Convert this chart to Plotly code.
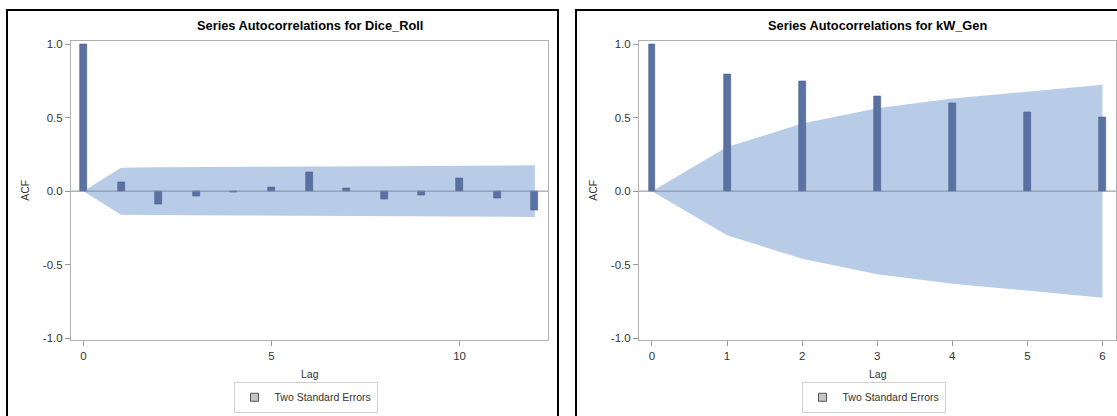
import plotly.graph_objects as go

# ---------------- data ----------------
dice_lags = list(range(0, 13))
dice_acf = [1.0, 0.062, -0.09, -0.035, -0.005, 0.028, 0.125, 0.018, -0.055, -0.03, 0.085, -0.05, -0.13]
dice_se2 = [0.0, 0.160, 0.162, 0.164, 0.165, 0.166, 0.167, 0.169, 0.170, 0.171, 0.172, 0.174, 0.176]

kw_lags = list(range(0, 7))
kw_acf = [1.0, 0.795, 0.745, 0.645, 0.60, 0.535, 0.50]
kw_se2 = [0.0, 0.30, 0.46, 0.565, 0.63, 0.68, 0.725]

y_tickvals = [-1.0, -0.5, 0.0, 0.5, 1.0]
y_ticktext = ["-1.0", "-0.5", "0.0", "0.5", "1.0"]
dice_xticks = [0, 5, 10]
kw_xticks = [0, 1, 2, 3, 4, 5, 6]

titles = ["Series Autocorrelations for Dice_Roll", "Series Autocorrelations for kW_Gen"]
legend_label = "Two Standard Errors"

# ---------------- styling ----------------
W, H = 1117, 416
BAR = "#5a72a3"
BAR_EDGE = "#4b608c"
BAND = "#b8cce8"
FONT = "Liberation Sans, Arial, sans-serif"
YRANGE = [-1.015, 1.02]


def px_x(p):
    return p / W


def px_y(p):
    return 1 - p / H


fig = go.Figure()

panels = [
    dict(lags=dice_lags, acf=dice_acf, se=dice_se2, xa="x", ya="y", oxa="x3", oya="y3",
         bw=0.186, xdom=[px_x(71), px_x(548)], xrange=[-0.33, 12.35], xticks=dice_xticks,
         legend="legend", cx=309.5, acfx=25),
    dict(lags=kw_lags, acf=kw_acf, se=kw_se2, xa="x2", ya="y2", oxa="x4", oya="y4",
         bw=0.093, xdom=[px_x(639), px_x(1116)], xrange=[-0.173, 6.18], xticks=kw_xticks,
         legend="legend2", cx=877.5, acfx=593),
]

for i, p in enumerate(panels):
    bx = p["lags"] + p["lags"][::-1]
    by = p["se"] + [-v for v in p["se"][::-1]]
    fig.add_trace(go.Scatter(
        x=bx, y=by, fill="toself", fillcolor=BAND, mode="lines",
        line=dict(width=0, color=BAND), xaxis=p["xa"], yaxis=p["ya"],
        showlegend=False, hoverinfo="skip"))
    # legend entry (gray swatch as in the reference)
    fig.add_trace(go.Scatter(
        x=[None], y=[None], mode="markers", name=legend_label,
        marker=dict(symbol="square", size=8, color="#c4c4c4",
                    line=dict(color="#555555", width=1)),
        xaxis=p["xa"], yaxis=p["ya"], legend=p["legend"], showlegend=True))
    # bars on an overlaying axis pair so they are drawn above the band
    fig.add_trace(go.Bar(
        x=p["lags"], y=p["acf"], width=p["bw"], xaxis=p["oxa"], yaxis=p["oya"],
        marker=dict(color=BAR, line=dict(color=BAR_EDGE, width=0.6)),
        showlegend=False))

ydom = [px_y(343), px_y(39)]
tickfont = dict(family=FONT, size=11.5, color="#333333")
axis_common = dict(showline=True, linecolor="#b0b0b0", linewidth=1, mirror=True,
                   ticks="outside", ticklen=5, tickcolor="#999999", showgrid=False,
                   zeroline=False, tickfont=tickfont)
hidden = dict(visible=False, showgrid=False, zeroline=False)

layout = dict(
    width=W, height=H, margin=dict(l=0, r=0, t=0, b=0),
    paper_bgcolor="white", plot_bgcolor="white", bargap=0,
    font=dict(family=FONT, size=11, color="#333333"),
    xaxis=dict(domain=panels[0]["xdom"], range=panels[0]["xrange"], anchor="y",
               tickvals=panels[0]["xticks"], **axis_common),
    yaxis=dict(domain=ydom, range=YRANGE, anchor="x",
               tickvals=y_tickvals, ticktext=y_ticktext, **axis_common),
    xaxis2=dict(domain=panels[1]["xdom"], range=panels[1]["xrange"], anchor="y2",
                tickvals=panels[1]["xticks"], **axis_common),
    yaxis2=dict(domain=ydom, range=YRANGE, anchor="x2",
                tickvals=y_tickvals, ticktext=y_ticktext, **axis_common),
    xaxis3=dict(overlaying="x", range=panels[0]["xrange"], anchor="y3", **hidden),
    yaxis3=dict(overlaying="y", range=YRANGE, anchor="x3", **hidden),
    xaxis4=dict(overlaying="x2", range=panels[1]["xrange"], anchor="y4", **hidden),
    yaxis4=dict(overlaying="y2", range=YRANGE, anchor="x4", **hidden),
)
for i, p in enumerate(panels):
    layout[p["legend"]] = dict(
        x=px_x(p["cx"] - 4), xanchor="center", y=px_y(401), yanchor="middle",
        bgcolor="white", bordercolor="#d0d0d0", borderwidth=1,
        font=dict(family=FONT, size=10.5, color="#333333"),
        itemwidth=30, orientation="h")
fig.update_layout(**layout)

shapes = []
# panel borders
shapes.append(dict(type="rect", xref="paper", yref="paper",
                   x0=px_x(7), x1=px_x(558), y0=px_y(430), y1=px_y(7),
                   line=dict(color="black", width=2), layer="above"))
shapes.append(dict(type="rect", xref="paper", yref="paper",
                   x0=px_x(576), x1=px_x(1130), y0=px_y(430), y1=px_y(7),
                   line=dict(color="black", width=2), layer="above"))
# zero reference lines
for p in panels:
    shapes.append(dict(type="line", xref=p["xa"] + " domain", yref=p["ya"],
                       x0=0, x1=1, y0=0, y1=0,
                       line=dict(color="#7d8ca3", width=1), layer="above"))
fig.update_layout(shapes=shapes)

ann = []
for i, p in enumerate(panels):
    ann.append(dict(text="<b>" + titles[i] + "</b>", x=px_x(p["cx"]), y=px_y(23),
                    xref="paper", yref="paper", showarrow=False,
                    font=dict(family=FONT, size=12.8, color="black"),
                    xanchor="center", yanchor="middle"))
    ann.append(dict(text="ACF", x=px_x(p["acfx"]), y=px_y(191), xref="paper", yref="paper",
                    showarrow=False, textangle=-90,
                    font=dict(family=FONT, size=10.5, color="#333333"),
                    xanchor="center", yanchor="middle"))
    ann.append(dict(text="Lag", x=px_x(p["cx"]), y=px_y(377), xref="paper", yref="paper",
                    showarrow=False, font=dict(family=FONT, size=10.5, color="#333333"),
                    xanchor="center", yanchor="middle"))
fig.update_layout(annotations=ann)

fig.write_html("out.html", config={"displayModeBar": False},
               post_script="document.body.style.margin='0';document.body.style.overflow='hidden';")
